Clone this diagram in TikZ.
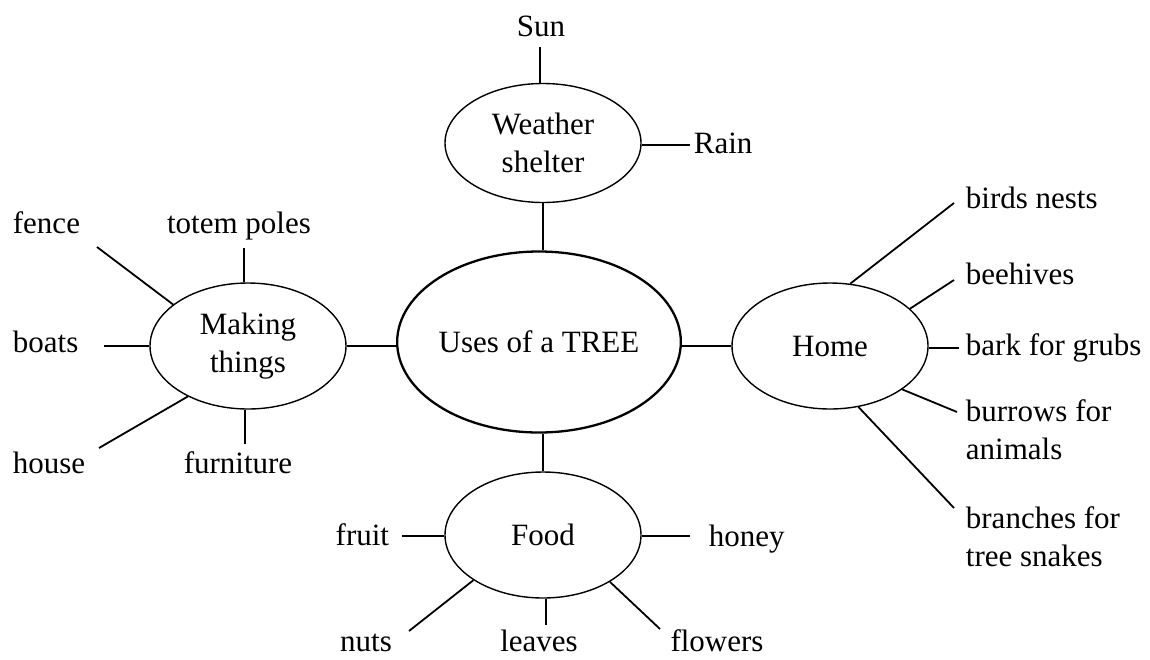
\documentclass[tikz,border=0pt]{standalone}
\usepackage{fontspec}
\setmainfont{Liberation Serif}
\usetikzlibrary{shapes.geometric}
\begin{document}
\begin{tikzpicture}[x=1pt,y=-1pt,line width=1.8pt,
        node font=\fontsize{31}{38}\selectfont,
        topic/.style={draw,ellipse,line width=1.4pt,inner sep=0pt,
            minimum width=196pt,minimum height=126pt,align=center},
        word/.style={inner sep=0pt,align=left}]
    \useasboundingbox (0,0) rectangle (1150,659);
    % the five ellipses
    \node [topic,line width=2.3pt,minimum width=282pt,minimum height=181pt] (tree) at (539,342) {Uses of a TREE};
    \node [topic,minimum height=119pt] (weather) at (543,143) {Weather\\shelter};
    \node [topic] (making) at (248,346) {Making\\things};
    \node [topic] (home) at (830,346) {Home};
    \node [topic] (food) at (543,535) {Food};
    \draw (weather.south) -- (weather.south |- tree.north);
    \draw (food.north) -- (food.north |- tree.south);
    \draw (making.east) -- (making.east -| tree.west);
    \draw (home.west) -- (home.west -| tree.east);
    % weather shelter
    \node [word,anchor=base] (sun) at (541,36) {Sun};
    \node [word,anchor=base west] (rain) at (693,153) {Rain};
    \coordinate (sunend) at (540,47);
    \coordinate (rainend) at (690,145);
    \draw (weather.north -| sunend) -- (sunend);
    \draw (weather.east |- rainend) -- (rainend);
    % making things
    \node [word,anchor=base west] (fence) at (12,233) {fence};
    \node [word,anchor=base] (totem) at (239,233) {totem poles};
    \node [word,anchor=base west] (boats) at (12,352) {boats};
    \node [word,anchor=base west] (house) at (12,473) {house};
    \node [word,anchor=base] (furniture) at (238,473) {furniture};
    \coordinate (fenceend) at (97,247);
    \coordinate (totemend) at (244,248);
    \coordinate (boatsend) at (104,346);
    \coordinate (houseend) at (99,448);
    \coordinate (furnend) at (245,444);
    \draw (making.151) -- (fenceend);
    \draw (making.north -| totemend) -- (totemend);
    \draw (making.west) -- (boatsend);
    \draw (making.220) -- (houseend);
    \draw (making.south -| furnend) -- (furnend);
    % home (two-line labels sit on their last line)
    \node [word,anchor=base west] (nests) at (965,208) {birds nests};
    \node [word,anchor=base west] (hives) at (965,284) {beehives};
    \node [word,anchor=base west] (bark) at (965,355) {bark for grubs};
    \node [word,anchor=base west] (burrows) at (965,459) {burrows for\\animals};
    \node [word,anchor=base west] (branches) at (965,566) {branches for\\tree snakes};
    \coordinate (nestsend) at (954,203);
    \coordinate (hivesend) at (954,280);
    \coordinate (barkend) at (959,348);
    \coordinate (burrowsend) at (957,412);
    \coordinate (branchesend) at (954,508);
    \foreach \a/\e in {72/nestsend,25/hivesend,-31/burrowsend,-65/branchesend}
        \draw (home.\a) -- (\e);
    \draw (home.east |- barkend) -- (barkend);
    % food
    \node [word,anchor=base east] (fruit) at (390,545) {fruit};
    \node [word,anchor=base west] (honey) at (708,546) {honey};
    \node [word,anchor=base] (nuts) at (366,651) {nuts};
    \node [word,anchor=base] (leaves) at (539,651) {leaves};
    \node [word,anchor=base] (flowers) at (717,651) {flowers};
    \coordinate (fruitend) at (402,536);
    \coordinate (honeyend) at (690,536);
    \coordinate (nutsend) at (409,631);
    \coordinate (leavesend) at (546,625);
    \coordinate (flowersend) at (660,629);
    \draw (food.west |- fruitend) -- (fruitend);
    \draw (food.east |- honeyend) -- (honeyend);
    \draw (food.213) -- (nutsend);
    \draw (food.south -| leavesend) -- (leavesend);
    \draw (food.-35) -- (flowersend);
\end{tikzpicture}
\end{document}
